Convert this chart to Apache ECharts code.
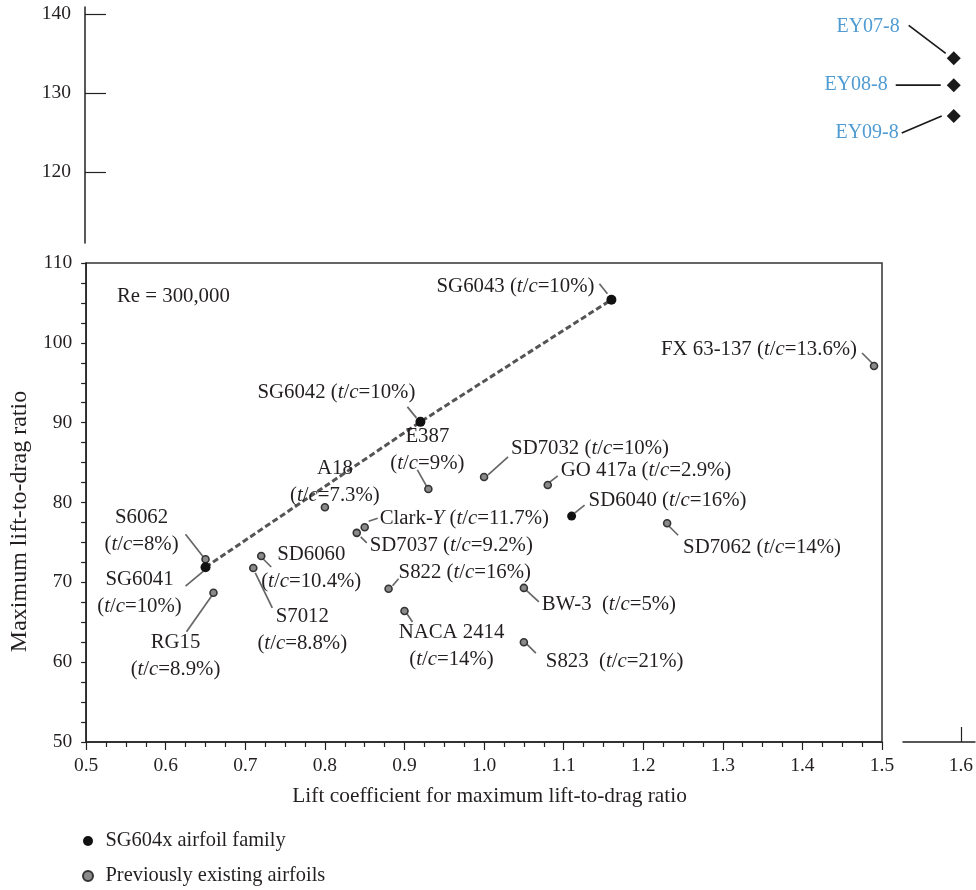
<!DOCTYPE html>
<html><head><meta charset="utf-8">
<script src="https://cdn.jsdelivr.net/npm/echarts@6/dist/echarts.min.js"></script>
<style>html,body{margin:0;padding:0;background:#fff}#c{width:976px;height:890px}</style>
</head><body><div id="c"></div>
<script>
// ---------- data ----------
const sgNames = ['SG6041', 'SG6042', 'SG6043'];
const sgX = [0.65, 0.92, 1.16];
const sgY = [71.9, 90.1, 105.4];
const sgLabels = ['SG6041\n(*t*/*c*=10%)', 'SG6042 (*t*/*c*=10%)', 'SG6043 (*t*/*c*=10%)'];

const prevNames = ['S6062', 'RG15', 'S7012', 'SD6060', 'A18', 'Clark-Y', 'SD7037', 'S822', 'NACA 2414',
  'E387', 'SD7032', 'GO 417a', 'SD6040', 'BW-3', 'S823', 'SD7062', 'FX 63-137'];
const prevX = [0.65, 0.66, 0.71, 0.72, 0.80, 0.85, 0.84, 0.88, 0.90, 0.93, 1.00, 1.08, 1.11, 1.05, 1.05, 1.23, 1.49];
const prevY = [72.9, 68.7, 71.8, 73.3, 79.4, 76.9, 76.2, 69.2, 66.4, 81.7, 83.2, 82.2, 78.3, 69.3, 62.5, 77.4, 97.1];
const prevLabels = ['S6062\n(*t*/*c*=8%)', 'RG15\n(*t*/*c*=8.9%)', 'S7012\n(*t*/*c*=8.8%)', 'SD6060\n(*t*/*c*=10.4%)',
  'A18\n(*t*/*c*=7.3%)', 'Clark-*Y* (*t*/*c*=11.7%)', 'SD7037 (*t*/*c*=9.2%)', 'S822 (*t*/*c*=16%)',
  'NACA 2414\n(*t*/*c*=14%)', 'E387\n(*t*/*c*=9%)', 'SD7032 (*t*/*c*=10%)', 'GO 417a (*t*/*c*=2.9%)',
  'SD6040 (*t*/*c*=16%)', 'BW-3  (*t*/*c*=5%)', 'S823  (*t*/*c*=21%)', 'SD7062 (*t*/*c*=14%)', 'FX 63-137 (*t*/*c*=13.6%)'];

const eyNames = ['EY07-8', 'EY08-8', 'EY09-8'];
const eyX = [1.59, 1.59, 1.59];
const eyY = [134.4, 131.0, 127.1];

const mainXRange = [0.5, 1.5];
const mainYRange = [50, 110];
const upperYTicks = [120, 130, 140];
const brokenXTicks = [1.6];

// ---------- layout (px offsets relative to each point) ----------
// label anchor: [dx, dy, align]
const sgLayout = [[-66, 26, 'center'], [-84, -29, 'center'], [-17, -13, 'right']];
const prevLayout = [[-64, -28, 'center'], [-38, 63, 'center'], [49, 62, 'center'], [50, 12, 'center'],
  [10, -25, 'center'], [15, -9, 'left'], [13, 13, 'left'], [10, -16, 'left'], [47, 35, 'center'],
  [-1, -39, 'center'], [27, -28, 'left'], [13, -14, 'left'], [17, -16, 'left'], [18, 17, 'left'],
  [22, 19, 'left'], [16, 24, 'left'], [-17, -16, 'right']];
const eyLayout = [[-54, -32, 'right'], [-66, 0, 'right'], [-55, 17, 'right']];
// leader segments: [x1, y1, x2, y2]
const sgSeg = [[-20, 19, -2, 4], [-13, -15, -4, -4], [-12, -16, -4, -6]];
const prevSeg = [[-20, -25, -2, -2], [-27, 39, -1, 2], [2, 5, 19, 40], [2, 3, 10, 11], null,
  [4, -6, 13, -9], [4, 4, 10, 10], [4, -3, 10, -10], [2, 2, 8, 11], [-11, -19, -2, -3],
  [4, -2, 24, -20], [1, -2, 10, -9], [3, -3, 13, -11], [2, 2, 15, 14], [2, 1, 12, 11],
  [1, 2, 11, 12], [-12, -13, -2, -3]];
const eySeg = [[-45, -33, -8, -5], [-58, 0, -13, 0], [-52, 17, -12, 0]];
const blackPrev = ['SD6040'];

const FONT = '"Liberation Serif", "Times New Roman", serif';
const FS = 20.8;
const TICK_FS = 19.5;
const TXT = '#231f20';

function toRich(s) { return s.replace(/\*([^*]+)\*/g, '{i|$1}'); }
function layoutFn(arr) {
  return function (p) {
    const l = arr[p.dataIndex];
    const cx = p.rect.x + p.rect.width / 2, cy = p.rect.y + p.rect.height / 2;
    return { x: cx + l[0], y: cy + l[1], align: l[2], verticalAlign: 'middle' };
  };
}
function labelOpt(color, size) {
  const fs = size || FS;
  return { show: true, fontFamily: FONT, fontSize: fs, color: color || TXT, lineHeight: 27, opacity: 1,
    formatter: p => toRich(p.data.label0),
    rich: { i: { fontStyle: 'italic', fontFamily: FONT, fontSize: fs, color: color || TXT, lineHeight: 27 } } };
}
function leaderSeries(xs, ys, segs, xi, yi, color) {
  return { type: 'custom', xAxisIndex: xi, yAxisIndex: yi, z: 2, silent: true,
    data: xs.map((x, i) => [x, ys[i]]),
    renderItem: function (params, api) {
      const s = segs[params.dataIndex];
      if (!s) return null;
      const p = api.coord([api.value(0), api.value(1)]);
      return { type: 'line', shape: { x1: p[0] + s[0], y1: p[1] + s[1], x2: p[0] + s[2], y2: p[1] + s[3] },
        style: { stroke: color, lineWidth: 1.7 } };
    } };
}

const chart = echarts.init(document.getElementById('c'), null, { renderer: 'canvas' });
const fmt1 = v => v.toFixed(1);

const option = {
  animation: false,
  backgroundColor: '#fff',
  textStyle: { fontFamily: FONT },
  grid: [
    { left: 85, right: 94, top: 263, bottom: 148, show: true, borderColor: '#333', borderWidth: 1.5 },
    { left: 85, right: 14.3, top: 7, bottom: 647 },
    { left: 903, right: 0, top: 700, bottom: 148 }
  ],
  xAxis: [
    { gridIndex: 0, type: 'value', min: mainXRange[0], max: mainXRange[1], interval: 0.1,
      name: 'Lift coefficient for maximum lift-to-drag ratio', nameLocation: 'middle', nameGap: 44,
      nameTextStyle: { fontFamily: FONT, fontSize: 21.4, color: TXT, padding: [0, 0, 0, 11] },
      axisLine: { lineStyle: { color: '#222', width: 1.5 } },
      axisTick: { inside: false, length: 8, lineStyle: { color: '#222', width: 1.2 } },
      minorTick: { show: true, splitNumber: 4, length: 5, lineStyle: { color: '#222', width: 1.2 } },
      axisLabel: { formatter: fmt1, fontFamily: FONT, fontSize: TICK_FS, color: TXT, margin: 14 },
      splitLine: { show: false } },
    { gridIndex: 1, type: 'value', min: 0.5, max: 1.6, show: false },
    { gridIndex: 2, type: 'value', min: 1.5263, max: 1.618,
      axisLine: { lineStyle: { color: '#222', width: 1.5 } },
      axisTick: { inside: true, length: 15, customValues: brokenXTicks, lineStyle: { color: '#222', width: 1.2 } },
      axisLabel: { customValues: brokenXTicks, formatter: fmt1, fontFamily: FONT, fontSize: TICK_FS, color: TXT, margin: 14 },
      splitLine: { show: false } }
  ],
  yAxis: [
    { gridIndex: 0, type: 'value', min: mainYRange[0], max: mainYRange[1], interval: 10,
      name: 'Maximum lift-to-drag ratio', nameLocation: 'middle', nameGap: 52, nameRotate: 90,
      nameTextStyle: { fontFamily: FONT, fontSize: 24, color: TXT, padding: [0, 38, 0, 0] },
      axisLine: { show: true, lineStyle: { color: '#222', width: 1.5 } },
      axisTick: { show: true, inside: false, length: 5, lineStyle: { color: '#222', width: 1.2 } },
      minorTick: { show: true, splitNumber: 4, length: 5, lineStyle: { color: '#222', width: 1.2 } },
      axisLabel: { fontFamily: FONT, fontSize: TICK_FS, color: TXT, margin: 14 },
      splitLine: { show: false } },
    { gridIndex: 1, type: 'value', min: 111, max: 140.9,
      axisLine: { show: true, lineStyle: { color: '#222', width: 1.5 } },
      axisTick: { show: true, inside: true, length: 21, customValues: upperYTicks, lineStyle: { color: '#222', width: 1.2 } },
      axisLabel: { customValues: upperYTicks, fontFamily: FONT, fontSize: TICK_FS, color: TXT, margin: 14 },
      splitLine: { show: false } },
    { gridIndex: 2, type: 'value', show: false }
  ],
  legend: {
    orient: 'vertical', left: 82, top: 831, padding: 0, itemGap: 15, itemWidth: 25, itemHeight: 10,
    data: [{ name: 'SG604x airfoil family', icon: 'circle' }, { name: 'Previously existing airfoils', icon: 'circle' }],
    textStyle: { fontFamily: FONT, fontSize: 20.4, color: TXT }
  },
  graphic: [
    { type: 'text', left: 117, top: 286, style: { text: 'Re = 300,000', font: FS + 'px ' + FONT, fill: TXT } }
  ],
  series: [
    { type: 'line', name: 'trend', xAxisIndex: 0, yAxisIndex: 0, z: 1, symbol: 'none', silent: true,
      data: sgX.map((x, i) => [x, sgY[i]]),
      lineStyle: { color: '#555', width: 3, type: [6, 3] } },
    leaderSeries(prevX, prevY, prevSeg, 0, 0, '#666'),
    leaderSeries(sgX, sgY, sgSeg, 0, 0, '#666'),
    leaderSeries(eyX, eyY, eySeg, 1, 1, '#1a1a1a'),
    { type: 'scatter', name: 'Previously existing airfoils', xAxisIndex: 0, yAxisIndex: 0, z: 3,
      symbol: 'circle', symbolSize: 7,
      itemStyle: { color: '#8a8a8a', borderColor: '#333', borderWidth: 1.6, opacity: 1 },
      data: prevX.map((x, i) => {
        const d = { value: [x, prevY[i]], name: prevNames[i], label0: prevLabels[i] };
        if (blackPrev.indexOf(prevNames[i]) >= 0) { d.symbolSize = 9; d.itemStyle = { color: '#111', borderColor: '#111', borderWidth: 0, opacity: 1 }; }
        return d;
      }),
      label: labelOpt(),
      labelLayout: layoutFn(prevLayout) },
    { type: 'scatter', name: 'SG604x airfoil family', xAxisIndex: 0, yAxisIndex: 0, z: 4,
      symbol: 'circle', symbolSize: 10,
      itemStyle: { color: '#111', opacity: 1 },
      data: sgX.map((x, i) => ({ value: [x, sgY[i]], name: sgNames[i], label0: sgLabels[i] })),
      label: labelOpt(),
      labelLayout: layoutFn(sgLayout) },
    { type: 'scatter', name: 'EY', xAxisIndex: 1, yAxisIndex: 1, z: 4,
      symbol: 'diamond', symbolSize: 14,
      itemStyle: { color: '#1a1a1a', opacity: 1 },
      data: eyX.map((x, i) => ({ value: [x, eyY[i]], name: eyNames[i], label0: eyNames[i] })),
      label: labelOpt('#4f9bd2', 20),
      labelLayout: layoutFn(eyLayout) }
  ]
};
chart.setOption(option);
</script>
</body></html>
